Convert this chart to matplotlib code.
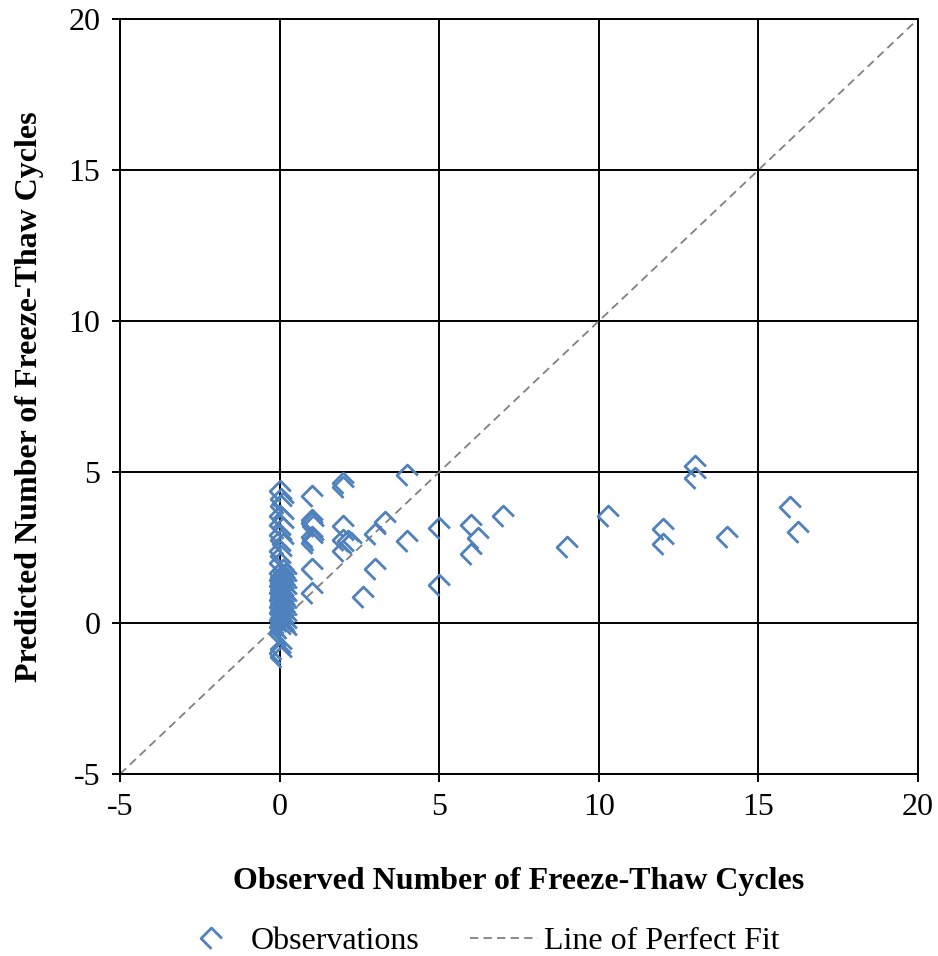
import matplotlib
matplotlib.use("Agg")
import matplotlib.pyplot as plt
from matplotlib.path import Path

plt.rcParams["font.family"] = ["Liberation Serif", "DejaVu Serif"]
plt.rcParams["axes.unicode_minus"] = False

# observed vs. predicted freeze-thaw cycles
# sites with zero observed cycles: upper scattered part of the column
zero_obs_upper = [0, 0.05, 0.1, 0.05, 0, 0.1, 0, 0.1, 0, 0.05, 0.1, 0, 0.05, 0, 0.1]
zero_pred_upper = [4.36, 4.09, 3.98, 3.87, 3.54, 3.43, 3.26, 3.15, 2.93, 2.76, 2.6,
                   2.38, 2.21, 1.99, 1.77]
# dense part of the column (markers overlap into a solid block)
zero_obs_dense = [
    0, 0.2, 0.1, 0.05, 0.15, 0, 0.2, 0.1, 0.05, 0.15, 0, 0.2, 0.1, 0.05, 0.15, 0,
    0.2, 0.1, 0.05, 0.15, 0, 0.2, 0.1, 0.05, 0.15, 0, 0.2, 0.1, 0.05, 0.15, 0, 0.2,
    0.1, 0.05, 0.15, 0, 0.2, 0.1, 0.05, 0.15, 0, 0.2, 0.1, 0.05, 0.15, 0, 0.2,
]
zero_pred_dense = [
    1.66, 1.62, 1.58, 1.53, 1.49, 1.44, 1.40, 1.35, 1.31, 1.26, 1.22, 1.17, 1.13,
    1.08, 1.04, 0.99, 0.95, 0.90, 0.86, 0.81, 0.77, 0.72, 0.68, 0.63, 0.59, 0.54,
    0.50, 0.45, 0.41, 0.36, 0.32, 0.27, 0.23, 0.18, 0.14, 0.09, 0.05, 0.0, -0.04,
    -0.09, -0.13, -0.18, -0.22, -0.27, -0.31, -0.36, -0.41,
]
zero_obs_lower = [0.05, 0, 0.05]
zero_pred_lower = [-0.85, -1.0, -1.12]
# sites with non-zero observed cycles
nonzero_obs = [
    1, 2, 2, 4,
    1, 1, 1.05, 1, 1.05, 1,
    2, 2, 2.15, 2.25, 2,
    3.3, 3, 4,
    1, 1, 3, 2.6,
    5, 5, 6, 6.2, 6, 7,
    9, 10.3, 12, 12, 13, 13, 14, 16, 16.25,
]
nonzero_pred = [
    4.2, 4.65, 4.5, 4.9,
    3.4, 3.3, 3.2, 2.85, 2.75, 2.65,
    3.2, 2.75, 2.72, 2.65, 2.4,
    3.35, 2.95, 2.7,
    1.8, 1.0, 1.8, 0.85,
    3.15, 1.25, 3.25, 2.8, 2.3, 3.55,
    2.5, 3.55, 3.1, 2.6, 5.2, 4.8, 2.85, 3.85, 3.0,
]
fit_line = [-5, 20]
ticks = [-5, 0, 5, 10, 15, 20]

observed = zero_obs_upper + zero_obs_dense + zero_obs_lower + nonzero_obs
predicted = zero_pred_upper + zero_pred_dense + zero_pred_lower + nonzero_pred

# open diamond with the lower-right edge missing
half_diamond = Path([(1, 0), (0, 1), (-1, 0), (0, -1)],
                    [Path.MOVETO, Path.LINETO, Path.LINETO, Path.LINETO])

fig = plt.figure(figsize=(9.38, 9.56), dpi=100)
ax = fig.add_axes([0.128, 0.1904, 0.8507, 0.7897])

ax.plot(observed, predicted, linestyle="none", marker=half_diamond, markersize=15,
        markerfacecolor="none", markeredgecolor="#4F81BD", markeredgewidth=2.0,
        label="Observations", zorder=3)
ax.plot(fit_line, fit_line, color="#808080", linewidth=1.3, dashes=(4.6, 2.9),
        label="Line of Perfect Fit", zorder=2)

ax.set_xlim(-5, 20)
ax.set_ylim(-5, 20)
ax.set_xticks(ticks)
ax.set_yticks(ticks)
ax.grid(True, color="black", linewidth=1.4)
for sp in ax.spines.values():
    sp.set_color("black")
    sp.set_linewidth(1.4)
ax.tick_params(direction="out", length=6, width=1.4, labelsize=23, pad=8)
ax.set_xlabel("Observed Number of Freeze-Thaw Cycles", fontsize=23,
              fontweight="bold", labelpad=32)
ax.set_ylabel("Predicted Number of Freeze-Thaw Cycles", fontsize=23,
              fontweight="bold", labelpad=18)

fig.legend(loc="lower center", bbox_to_anchor=(0.51, -0.03), ncol=2, frameon=False,
           fontsize=23, handlelength=2.1, handletextpad=0.2, columnspacing=1.6)

fig.savefig("out.png", dpi=100)
plt.close(fig)
